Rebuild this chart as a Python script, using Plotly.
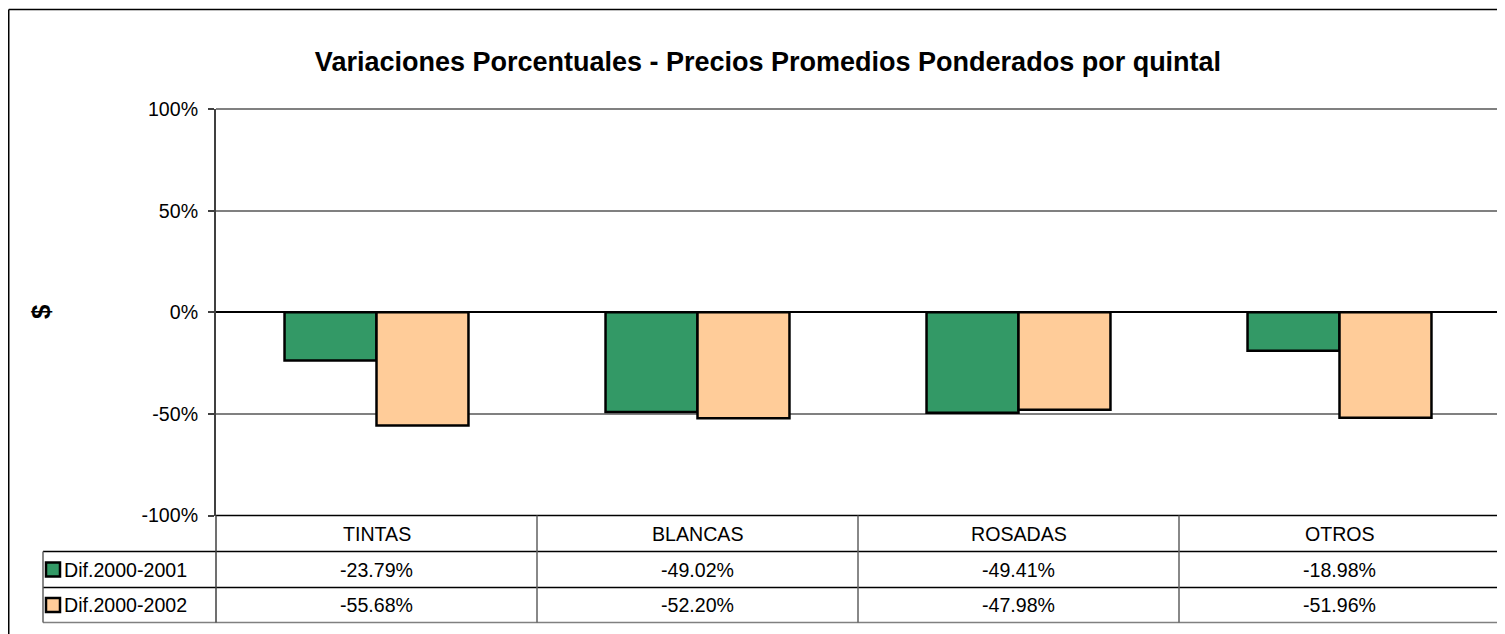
import plotly.graph_objects as go

# ---- data ----
categories = ["TINTAS", "BLANCAS", "ROSADAS", "OTROS"]
series_names = ["Dif.2000-2001", "Dif.2000-2002"]
dif_2000_2001 = [-23.79, -49.02, -49.41, -18.98]
dif_2000_2002 = [-55.68, -52.20, -47.98, -51.96]
ytick_vals = [-1.0, -0.5, 0.0, 0.5, 1.0]
ytick_text = ["-100%", "-50%", "0%", "50%", "100%"]
title_text = "Variaciones Porcentuales - Precios Promedios Ponderados por quintal"
yaxis_label = "$"

# ---- layout helpers ----
OFF = 8  # page body margin
W, H = 1505 - OFF, 634 - OFF
FONT = "Arial, 'Liberation Sans', sans-serif"
colors = ["#339966", "#FFCC99"]


def px(x):
    return (x - OFF) / W


def py(y):
    return 1 - (y - OFF) / H


plot_left, plot_right = 216, 1500
plot_top, plot_bottom = 109, 515.5
row_lines = [515.5, 551.5, 587.5, 622.5]
legend_left = 43

fig = go.Figure()
for name, vals, col in zip(series_names, [dif_2000_2001, dif_2000_2002], colors):
    fig.add_trace(go.Bar(
        x=categories, y=[v / 100 for v in vals], name=name,
        marker=dict(color=col, line=dict(color="black", width=2.5)),
        showlegend=False,
    ))

shapes = []
# outer chart frame (left and top edges)
shapes.append(dict(type="line", xref="paper", yref="paper", x0=px(8.75), x1=px(8.75),
                   y0=py(9.5), y1=py(700), line=dict(color="#000000", width=1.5)))
shapes.append(dict(type="line", xref="paper", yref="paper", x0=px(8.75), x1=px(1600),
                   y0=py(9.5), y1=py(9.5), line=dict(color="#000000", width=1.5)))
# plot area top and right borders
shapes.append(dict(type="line", xref="paper", yref="paper", x0=px(plot_left), x1=px(plot_right),
                   y0=py(plot_top), y1=py(plot_top), line=dict(color="#808080", width=2)))
shapes.append(dict(type="line", xref="paper", yref="paper", x0=px(plot_right), x1=px(plot_right),
                   y0=py(plot_top), y1=py(plot_bottom), line=dict(color="#808080", width=2)))

# data table horizontal lines
shapes.append(dict(type="line", xref="paper", yref="paper", x0=px(plot_left), x1=px(plot_right),
                   y0=py(row_lines[0]), y1=py(row_lines[0]), line=dict(color="#000000", width=1.5)))
for i, yy in enumerate(row_lines[1:]):
    c = "#808080" if i == 2 else "#000000"
    shapes.append(dict(type="line", xref="paper", yref="paper", x0=px(legend_left), x1=px(plot_right),
                       y0=py(yy), y1=py(yy), line=dict(color=c, width=1.5)))
# data table vertical lines
cat_w = (plot_right - plot_left) / len(categories)
for k in range(len(categories) + 1):
    xx = plot_left + k * cat_w
    c = "#404040" if k == 0 else "#606060"
    shapes.append(dict(type="line", xref="paper", yref="paper", x0=px(xx), x1=px(xx),
                       y0=py(row_lines[0]), y1=py(row_lines[-1]), line=dict(color=c, width=1.5)))
shapes.append(dict(type="line", xref="paper", yref="paper", x0=px(legend_left), x1=px(legend_left),
                   y0=py(row_lines[1]), y1=py(row_lines[-1]), line=dict(color="#606060", width=1.5)))

annotations = []
row_centers = [(row_lines[i] + row_lines[i + 1]) / 2 for i in range(3)]
# category row
for cat in categories:
    annotations.append(dict(x=cat, xref="x", y=py(row_centers[0]), yref="paper",
                            text=cat, showarrow=False, xanchor="center", yanchor="middle",
                            font=dict(family=FONT, size=19.6, color="black")))
# value rows + legend keys
for r, (name, vals, col) in enumerate(zip(series_names, [dif_2000_2001, dif_2000_2002], colors)):
    yc = row_centers[r + 1]
    for cat, v in zip(categories, vals):
        annotations.append(dict(x=cat, xref="x", y=py(yc), yref="paper",
                                text=f"{v:.2f}%", showarrow=False, xanchor="center", yanchor="middle",
                                font=dict(family=FONT, size=19.6, color="black")))
    shapes.append(dict(type="rect", xref="paper", yref="paper", x0=px(46), x1=px(60),
                       y0=py(yc - 7), y1=py(yc + 7), fillcolor=col,
                       line=dict(color="black", width=2.5)))
    annotations.append(dict(x=px(62), xref="paper", y=py(yc), yref="paper",
                            text=name, showarrow=False, xanchor="left", yanchor="middle",
                            font=dict(family=FONT, size=19.6, color="black")))
# y axis label
annotations.append(dict(x=px(41), xref="paper", y=py(312), yref="paper", text=f"<b>{yaxis_label}</b>",
                        textangle=-90, showarrow=False, xanchor="center", yanchor="middle",
                        font=dict(family=FONT, size=26, color="black")))

fig.update_layout(
    width=W, height=H,
    margin=dict(l=0, r=0, t=0, b=0, autoexpand=False),
    paper_bgcolor="white", plot_bgcolor="white",
    template="none",
    barmode="group", bargap=0.427, bargroupgap=0,
    title=dict(text=f"<b>{title_text}</b>", x=px(768), xanchor="center",
               y=py(62), yanchor="middle",
               font=dict(family=FONT, size=27, color="black")),
    xaxis=dict(domain=[px(plot_left), px(plot_right)], range=[-0.5, len(categories) - 0.5],
               showticklabels=False, showgrid=False, showline=False, zeroline=False,
               ticks="", automargin=False, fixedrange=True),
    yaxis=dict(domain=[py(plot_bottom), py(plot_top)], range=[-1, 1],
               tickvals=ytick_vals, ticktext=ytick_text,
               showgrid=True, gridcolor="#808080", gridwidth=1.5,
               zeroline=True, zerolinecolor="#000000", zerolinewidth=1.5,
               showline=True, linecolor="#404040", linewidth=2,
               ticks="outside", ticklen=6, tickcolor="#404040", tickwidth=1.5,
               ticklabelstandoff=6,
               tickfont=dict(family=FONT, size=19.6, color="black"),
               automargin=False, fixedrange=True),
    shapes=shapes, annotations=annotations,
    font=dict(family=FONT),
)

fig.write_html("out.html")
